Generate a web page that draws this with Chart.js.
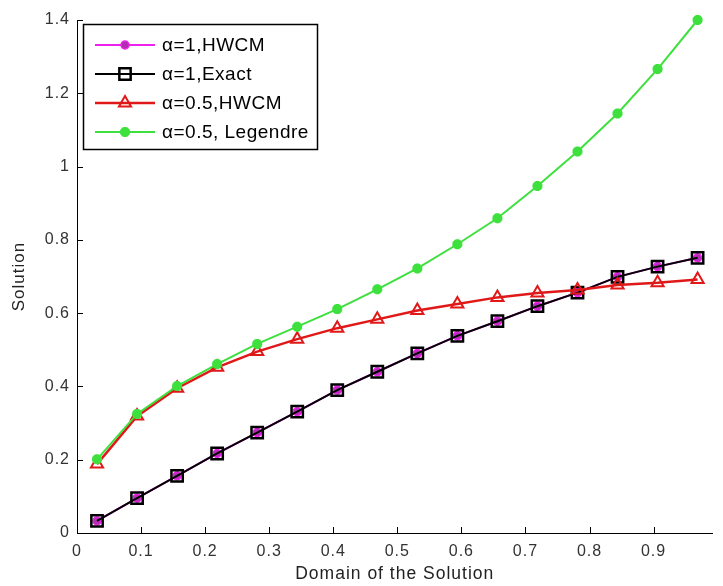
<!DOCTYPE html>
<html>
<head>
<meta charset="utf-8">
<script src="https://cdn.jsdelivr.net/npm/chart.js@4/dist/chart.umd.min.js"></script>
<style>
  body { margin: 0; background: #fff; }
  canvas { display: block; }
</style>
</head>
<body>
<canvas id="chart" width="723" height="586"></canvas>
<script>
// collocation points (x) and the solutions
const xPoints = [0.03125, 0.09375, 0.15625, 0.21875, 0.28125, 0.34375, 0.40625, 0.46875,
  0.53125, 0.59375, 0.65625, 0.71875, 0.78125, 0.84375, 0.90625, 0.96875];
const hwcmAlpha1 = [0.033, 0.095, 0.156, 0.217, 0.274, 0.331, 0.390, 0.440,
  0.490, 0.538, 0.578, 0.619, 0.656, 0.699, 0.727, 0.751];
const exactAlpha1 = [0.033, 0.095, 0.156, 0.217, 0.274, 0.331, 0.390, 0.440,
  0.490, 0.538, 0.578, 0.619, 0.656, 0.699, 0.727, 0.751];
const hwcmAlphaHalf = [0.188, 0.319, 0.395, 0.452, 0.495, 0.529, 0.559, 0.583,
  0.607, 0.625, 0.643, 0.655, 0.663, 0.677, 0.683, 0.692];
const legendreAlphaHalf = [0.201, 0.325, 0.401, 0.461, 0.516, 0.563, 0.611, 0.665,
  0.722, 0.788, 0.859, 0.947, 1.041, 1.145, 1.266, 1.400];

const seriesNames = ["\u03b1=1,HWCM", "\u03b1=1,Exact", "\u03b1=0.5,HWCM", "\u03b1=0.5, Legendre"];
const xTicks = [0, 0.1, 0.2, 0.3, 0.4, 0.5, 0.6, 0.7, 0.8, 0.9];
const yTicks = [0, 0.2, 0.4, 0.6, 0.8, 1, 1.2, 1.4];

const FONT = "'Liberation Sans', Arial, sans-serif";
const toPoints = (ys) => ys.map((y, i) => ({ x: xPoints[i], y: y }));

const datasets = [
  {
    label: seriesNames[0],
    data: toPoints(hwcmAlpha1),
    borderColor: "#ee22ee",
    backgroundColor: "#b030b0",
    borderWidth: 2,
    pointStyle: "circle",
    pointRadius: 4,
    pointBorderWidth: 1.5,
    pointBorderColor: "#ee22ee",
    pointBackgroundColor: "#b030b0",
    order: 4,
  },
  {
    label: seriesNames[1],
    data: toPoints(exactAlpha1),
    borderColor: "#000000",
    backgroundColor: "rgba(0,0,0,0)",
    borderWidth: 2,
    pointStyle: "rect",
    pointRadius: 8,
    pointBorderWidth: 2.5,
    pointBackgroundColor: "rgba(0,0,0,0)",
    order: 3,
  },
  {
    label: seriesNames[2],
    data: toPoints(hwcmAlphaHalf),
    borderColor: "#e01818",
    backgroundColor: "rgba(0,0,0,0)",
    borderWidth: 2.5,
    pointStyle: "triangle",
    pointRadius: 7,
    pointBorderWidth: 2,
    pointBackgroundColor: "rgba(0,0,0,0)",
    order: 2,
  },
  {
    label: seriesNames[3],
    data: toPoints(legendreAlphaHalf),
    borderColor: "#3ee03e",
    backgroundColor: "#3ee03e",
    borderWidth: 2,
    pointStyle: "star",
    pointRadius: 5,
    pointBorderWidth: 3.5,
    pointBackgroundColor: "#3ee03e",
    order: 1,
  },
];

// wider glyph spacing, closer to the bitmap font of the original
const spacing = {
  id: "spacing",
  beforeDraw(chart) {
    chart.ctx.letterSpacing = "1px";
  },
  afterDatasetsDraw(chart) {
    chart.ctx.letterSpacing = "0px";
  },
};

// MATLAB style inward ticks
const inwardTicks = {
  id: "inwardTicks",
  afterDraw(chart) {
    const ctx = chart.ctx;
    const { left, bottom } = chart.chartArea;
    ctx.save();
    ctx.strokeStyle = "#000";
    ctx.lineWidth = 1;
    ctx.beginPath();
    chart.scales.x.ticks.forEach((t) => {
      const px = Math.round(chart.scales.x.getPixelForValue(t.value)) + 0.5;
      ctx.moveTo(px, bottom);
      ctx.lineTo(px, bottom - 6);
    });
    chart.scales.y.ticks.forEach((t) => {
      const py = Math.round(chart.scales.y.getPixelForValue(t.value)) + 0.5;
      ctx.moveTo(left, py);
      ctx.lineTo(left + 6, py);
    });
    ctx.stroke();
    ctx.restore();
  },
};

// legend box with line + marker, like the MATLAB one
const boxLegend = {
  id: "boxLegend",
  afterDraw(chart) {
    const ctx = chart.ctx;
    const bx = 83, by = 24, bw = 234, bh = 125;
    ctx.save();
    ctx.fillStyle = "#fff";
    ctx.fillRect(bx, by, bw, bh);
    ctx.strokeStyle = "#000";
    ctx.lineWidth = 1.5;
    ctx.strokeRect(bx + 0.5, by + 0.5, bw, bh);

    const rowsY = [45, 74, 103, 132];
    chart.data.datasets.forEach((ds, r) => {
      const y = rowsY[r];
      ctx.strokeStyle = ds.borderColor;
      ctx.lineWidth = ds.borderWidth;
      ctx.beginPath();
      ctx.moveTo(95, y);
      ctx.lineTo(155, y);
      ctx.stroke();
      ctx.fillStyle = ds.pointBackgroundColor;
      ctx.strokeStyle = ds.pointBorderColor || ds.borderColor;
      ctx.lineWidth = ds.pointBorderWidth;
      Chart.helpers.drawPoint(ctx, {
        pointStyle: ds.pointStyle,
        radius: ds.pointRadius,
        rotation: 0,
        borderWidth: ds.pointBorderWidth,
      }, 125, y);
      ctx.fillStyle = "#000";
      ctx.font = "19px " + FONT;
      ctx.letterSpacing = "0.5px";
      ctx.textAlign = "left";
      ctx.textBaseline = "middle";
      ctx.fillText(ds.label, 162, y + 1);
    });
    ctx.restore();
  },
};

new Chart(document.getElementById("chart"), {
  type: "scatter",
  data: { datasets: datasets },
  plugins: [spacing, inwardTicks, boxLegend],
  options: {
    responsive: false,
    animation: false,
    showLine: true,
    clip: false,
    layout: { padding: { top: 20, right: 0, bottom: 0, left: 0 } },
    elements: { line: { tension: 0 } },
    plugins: {
      legend: { display: false },
      tooltip: { enabled: false },
    },
    scales: {
      x: {
        type: "linear",
        min: 0,
        max: 0.992,
        grid: { display: false, drawTicks: false },
        border: { display: true, color: "#000", width: 1 },
        afterBuildTicks: (scale) => {
          scale.ticks = xTicks.map((v) => ({ value: v }));
        },
        afterFit: (scale) => {
          scale.height = 53;
        },
        ticks: {
          padding: 9,
          color: "#333",
          font: { family: FONT, size: 16 },
          maxRotation: 0,
          callback: (v) => String(v),
        },
        title: {
          display: true,
          text: "Domain of the Solution",
          color: "#222",
          font: { family: FONT, size: 17.5 },
          padding: { top: 0, bottom: 1 },
        },
      },
      y: {
        type: "linear",
        min: 0,
        max: 1.4,
        grid: { display: false, drawTicks: false },
        border: { display: true, color: "#000", width: 1 },
        afterBuildTicks: (scale) => {
          scale.ticks = yTicks.map((v) => ({ value: v }));
        },
        afterFit: (scale) => {
          scale.width = 77;
        },
        ticks: {
          padding: 7,
          color: "#333",
          font: { family: FONT, size: 16 },
          callback: (v) => String(v),
        },
        title: {
          display: true,
          text: "Solution",
          color: "#222",
          font: { family: FONT, size: 17 },
          padding: { top: 9, bottom: 0 },
        },
      },
    },
  },
});
</script>
</body>
</html>
